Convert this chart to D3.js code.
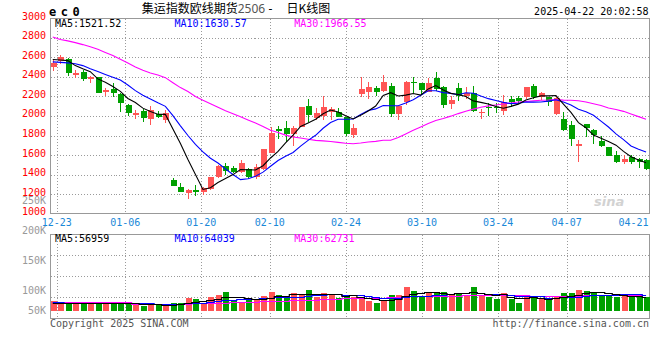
<!DOCTYPE html>
<html><head><meta charset="utf-8">
<script src="https://cdn.jsdelivr.net/npm/d3@7"></script>
<style>body{margin:0;background:#fff}svg{display:block}</style>
</head><body>
<svg id="c" width="660" height="360"></svg>
<script>
const dates = ["12-20","12-23","12-24","12-25","12-26","12-27","12-30","12-31","01-02","01-03",
"01-06","01-07","01-08","01-09","01-10","01-13","01-14","01-15","01-16","01-17",
"01-20","01-21","01-22","01-23","01-24","01-27","02-05","02-06","02-07","02-10",
"02-11","02-12","02-13","02-14","02-17","02-18","02-19","02-20","02-21","02-24",
"02-25","02-26","02-27","02-28","03-03","03-04","03-05","03-06","03-07","03-10",
"03-11","03-12","03-13","03-14","03-17","03-18","03-19","03-20","03-21","03-24",
"03-25","03-26","03-27","03-28","03-31","04-01","04-02","04-03","04-07","04-08",
"04-09","04-10","04-11","04-14","04-15","04-16","04-17","04-18","04-21","04-22"];
const open = [2504,2565,2583,2416,2450,2375,2395,2248,2279,2225,
2109,2010,2051,1972,2017,1959,1341,1277,1208,1242,
1225,1253,1372,1491,1464,1430,1454,1372,1457,1624,
1867,1877,1815,1890,2105,1982,2000,2044,2044,1986,
1805,2225,2248,2283,2259,2306,2017,2146,2351,2334,
2245,2388,2292,2119,2283,2204,2231,2027,2095,2095,
2054,2173,2187,2190,2306,2190,2190,2020,1965,1907,
1696,1918,1856,1747,1679,1601,1525,1584,1556,1549];
const high = [2572,2624,2589,2470,2470,2412,2402,2283,2341,2238,
2119,2061,2071,2102,2051,2064,1369,1311,1253,1294,
1277,1379,1498,1522,1488,1549,1464,1508,1662,1884,
1897,1952,1897,2095,2173,2078,2204,2095,2078,1993,
1918,2395,2351,2306,2419,2341,2105,2361,2402,2341,
2390,2448,2304,2200,2341,2300,2306,2068,2129,2136,
2214,2208,2204,2293,2327,2249,2190,2190,2037,1948,
1754,1918,1863,1795,1679,1645,1601,1601,1573,1556];
const low = [2463,2531,2412,2392,2361,2341,2231,2208,2190,2044,
2003,1969,1938,1911,1976,1924,1283,1225,1150,1181,
1191,1242,1362,1396,1413,1413,1362,1352,1447,1618,
1761,1737,1693,1884,1942,1959,1959,1959,1986,1795,
1778,2190,2173,2204,2248,1993,1959,2112,2231,2221,
2242,2255,2085,2070,2156,2170,2037,1969,2003,2027,
2010,2088,2122,2173,2173,2163,2105,2010,1846,1696,
1532,1781,1713,1679,1590,1522,1505,1509,1464,1447];
const close = [2545,2606,2443,2443,2375,2398,2238,2265,2231,2129,
2034,2030,1976,2057,1986,2030,1287,1225,1242,1225,
1260,1379,1491,1440,1430,1515,1372,1478,1662,1822,
1850,1815,1877,2095,2010,2034,2095,2071,1993,1815,
1873,2276,2300,2248,2351,2017,2105,2344,2334,2265,
2338,2275,2116,2163,2208,2231,2051,2044,2078,2078,
2146,2146,2156,2293,2190,2238,2146,2180,1856,1764,
1713,1880,1805,1696,1594,1532,1560,1532,1525,1454];
const ma5 = [2578,2572,2566,2515,2482,2453,2379,2344,2301,2252,
2179,2138,2080,2045,2017,2016,1867,1717,1554,1402,
1248,1266,1319,1359,1400,1451,1450,1447,1491,1570,
1637,1725,1805,1892,1929,1966,2022,2061,2041,2002,
1969,2006,2051,2102,2210,2238,2204,2213,2230,2213,
2277,2311,2266,2231,2220,2199,2154,2139,2122,2096,
2079,2098,2121,2164,2186,2205,2205,2209,2122,2037,
1932,1879,1804,1772,1738,1701,1637,1583,1549,1521.52];
const ma10 = [2553,2548,2543,2534,2515,2483,2454,2425,2396,2367,
2316,2259,2212,2173,2134,2098,2003,1899,1800,1709,
1632,1567,1518,1457,1401,1349,1358,1383,1425,1485,
1544,1588,1626,1692,1750,1802,1874,1933,1966,1966,
1968,2014,2056,2072,2106,2104,2105,2132,2166,2211,
2258,2258,2239,2231,2217,2238,2233,2203,2177,2158,
2139,2126,2130,2143,2141,2142,2152,2165,2143,2112,
2068,2042,2007,1947,1887,1817,1758,1693,1660,1630.57];
const ma30 = [2808,2782,2768,2750,2730,2707,2683,2650,2618,2580,
2541,2502,2468,2440,2418,2392,2340,2290,2250,2200,
2160,2125,2088,2053,2023,1991,1959,1927,1893,1854,
1831,1804,1785,1774,1762,1750,1745,1738,1730,1720,
1715,1723,1734,1740,1752,1752,1779,1816,1853,1887,
1923,1953,1974,1998,2024,2048,2070,2089,2103,2112,
2122,2133,2142,2148,2154,2161,2163,2167,2162,2160,
2155,2142,2125,2107,2082,2066,2047,2020,1993,1966.55];
const volume = [39200,32300,32300,29500,29500,29500,32300,29500,32300,32300,
29500,27100,20200,29500,23000,23000,29500,32300,49700,45700,
32300,53700,63400,75500,43200,35100,43200,45700,60600,75500,
63400,56600,71500,63400,83600,53700,71500,67500,52500,60600,
56600,47300,39200,32300,39200,63400,63400,95700,79600,59400,
69900,75500,75500,63400,71500,63400,95700,59400,56600,47300,
71500,47300,32300,63400,53700,49700,43200,53700,71500,71500,
83600,79600,75500,59400,59400,56600,63400,56600,53700,53700];
const volMa5 = [30500,31000,31500,32000,32600,30600,30600,30100,30600,31200,
31200,30100,28300,27700,25900,24600,25000,27500,31500,36000,
37900,42700,49000,54100,53600,54200,52100,48500,45600,52000,
57700,60400,65500,66100,67700,65800,68700,67900,65800,61200,
61700,56900,51200,47200,42900,44300,47500,58800,68300,72300,
73600,76000,72000,68700,71200,69900,73900,70700,69300,64500,
66100,56400,51000,52400,53600,49300,48500,52700,54400,57900,
64700,72000,76300,73900,71500,66100,62900,59100,57900,56959];
const volMa10 = [33500,33200,33000,32800,32500,32200,32000,31500,31200,31900,
30900,30400,29200,29200,28500,27900,27600,27900,29600,31000,
31200,33900,38200,42800,44800,46000,47400,48800,49800,52800,
55900,56200,57000,55800,59900,61700,64600,66700,65900,64400,
63800,62800,59600,56500,52000,53000,52200,55000,57700,57600,
58900,61800,65400,68500,71700,71700,75000,71300,69000,67800,
68000,65200,60800,60800,59100,57700,52400,51900,53400,55800,
57000,60200,64500,64100,64700,65400,67400,67700,65900,64039];
const volMa30 = [36500,36300,36100,35900,35700,35500,35300,35100,34900,34700,
34500,28000,27500,27200,27000,27000,27000,27500,29000,29500,
30000,30500,31000,32500,33500,34500,35500,36500,37500,38500,
39400,40200,41500,42600,44400,45200,46500,47800,48500,49400,
50300,51000,51600,51700,52200,53600,54700,56800,57800,58300,
59500,60300,60700,60300,61200,62200,63900,64400,64200,63300,
63600,63200,61900,61900,60900,60800,59900,59400,60000,60400,
61300,62400,63600,64500,65200,64900,64900,63600,62800,62731];
const priceTicks = [1000,1200,1400,1600,1800,2000,2200,2400,2600,2800,3000];
const volTicks = [250000,200000,150000,100000,50000];
const volTickLabels = ["250K","200K","150K","100K","50K"];
const dateTicks = ["12-23","01-06","01-20","02-10","02-24","03-10","03-24","04-07","04-21"];
const priceMaLabels = ["MA5:1521.52","MA10:1630.57","MA30:1966.55"];
const volMaLabels = ["MA5:56959","MA10:64039","MA30:62731"];

const RED = "#ff5555", GREEN = "#00a000", GRID = "#9a9a9a", FRAME = "#999";
const MONO = "'DejaVu Sans Mono', 'Liberation Mono', monospace";
const svg = d3.select("#c");
svg.append("rect").attr("width",660).attr("height",360).attr("fill","#fff");

const x = d3.scaleBand().domain(dates).range([49, 649.8]);
const cx = d => x(d) + x.bandwidth()/2;
const xLab = d3.scalePoint().domain(dates).range([49.1, 650.4]);
const y = d3.scaleLinear().domain([1000,3000]).range([213.7, 18.2]);
const yV = d3.scaleLinear().domain([0,100000]).range([310.7, 285.95]);
const yVL = d3.scaleLinear().domain([100000,250000]).range([290.7, 200]);
const yPanel = d3.scaleLinear().domain([0,4]).range([234.5, 318.5]);

const P = {l:50.5, r:649.5, t:18.5, b:213.5};
const V = {t:234.5, b:318.5};

// grid
const g = svg.append("g").attr("stroke", GRID).attr("stroke-dasharray","1,2").attr("shape-rendering","crispEdges");
priceTicks.filter(v => v>1000 && v<3000).forEach(v => {
  const yy = Math.round(y(v)) + 0.5;
  g.append("line").attr("x1",P.l).attr("x2",P.r).attr("y1",yy).attr("y2",yy);
});
[1,2,3].forEach(k => {
  const yy = yPanel(k);
  g.append("line").attr("x1",P.l).attr("x2",P.r).attr("y1",yy).attr("y2",yy);
});
dateTicks.slice(0, -1).forEach(d => {
  const xx = Math.round(xLab(d)) + 0.5;
  g.append("line").attr("x1",xx).attr("x2",xx).attr("y1",P.t).attr("y2",P.b);
  g.append("line").attr("x1",xx).attr("x2",xx).attr("y1",V.t).attr("y2",V.b);
});

// frames
svg.append("rect").attr("x",P.l).attr("y",P.t).attr("width",P.r-P.l).attr("height",P.b-P.t)
  .attr("fill","none").attr("stroke",FRAME).attr("shape-rendering","crispEdges");
svg.append("rect").attr("x",P.l).attr("y",V.t).attr("width",P.r-P.l).attr("height",V.b-V.t)
  .attr("fill","none").attr("stroke",FRAME).attr("shape-rendering","crispEdges");

// candles
const cg = svg.append("g").attr("shape-rendering","crispEdges");
dates.forEach((d,i) => {
  const col = close[i] >= open[i] ? RED : GREEN;
  const c = cx(d);
  const wx = Math.round(c) + 0.5;
  cg.append("line").attr("x1",wx).attr("x2",wx).attr("y1",y(high[i])).attr("y2",y(low[i])).attr("stroke",col);
  const top = y(Math.max(open[i],close[i])), bot = y(Math.min(open[i],close[i]));
  cg.append("rect").attr("x",Math.round(c)-2.5).attr("width",6).attr("y",Math.round(top))
    .attr("height",Math.max(1, Math.round(bot)-Math.round(top))).attr("fill",col);
  // volume bars
  const vt = Math.round(yV(volume[i]));
  cg.append("rect").attr("x",Math.round(c)-2.5).attr("width",6).attr("y",vt)
    .attr("height",311 - vt).attr("fill",col);
});

// MA lines
const line = d3.line().x((v,i) => cx(dates[i])).y(v => y(v));
[[ma30,"#ff00ff"],[ma10,"#0000ff"],[ma5,"#000"]].forEach(([arr,col]) => {
  svg.append("path").attr("d", line(arr)).attr("fill","none").attr("stroke",col).attr("stroke-width",1.1);
});
const vline = d3.line().x((v,i) => cx(dates[i])).y(v => Math.round(yV(v))+0.5).curve(d3.curveStep);
[[volMa30,"#ff00ff"],[volMa10,"#0000ff"],[volMa5,"#000"]].forEach(([arr,col]) => {
  svg.append("path").attr("d", vline(arr)).attr("fill","none").attr("stroke",col).attr("stroke-width",1.2);
});

// watermark
svg.append("text").attr("x",594).attr("y",206).text("sina")
  .attr("font-family","'DejaVu Sans', sans-serif").attr("font-style","italic").attr("font-weight","bold")
  .attr("font-size",13).attr("fill","#d2d2d2");

// price labels
svg.append("g").selectAll("text").data(priceTicks).join("text")
  .attr("x",46).attr("y",v => y(v)+1.5).attr("text-anchor","end")
  .attr("font-family",MONO).attr("font-size",10).attr("fill","#ff0000").text(v => v);
// volume labels
svg.append("g").selectAll("text").data(volTicks).join("text")
  .attr("x",46).attr("y",v => Math.min(yVL(v), 310.7) + 3.5).attr("text-anchor","end")
  .attr("font-family",MONO).attr("font-size",10).attr("fill","#999").text((v,i) => volTickLabels[i]);
// date labels
svg.append("g").selectAll("text").data(dateTicks).join("text")
  .attr("x",d => Math.min(xLab(d), 648.5 - 15)).attr("y",226).attr("text-anchor","middle")
  .attr("font-family",MONO).attr("font-size",10).attr("fill","#1a88d8").text(d => d);

// MA legends
const maCols = ["#000","#0000ff","#ff00ff"], maX = [55,174.5,294.3];
priceMaLabels.forEach((t,i) => svg.append("text").attr("x",maX[i]).attr("y",26.5)
  .attr("font-family",MONO).attr("font-size",10).attr("fill",maCols[i]).text(t));
volMaLabels.forEach((t,i) => svg.append("text").attr("x",maX[i]).attr("y",242)
  .attr("font-family",MONO).attr("font-size",10).attr("fill",maCols[i]).text(t));

// header
svg.append("text").attr("x",49).attr("y",15.7).text("ec0")
  .attr("font-family",MONO).attr("font-weight","bold").attr("font-size",12).attr("letter-spacing",4.5).attr("fill","#000");
const title = svg.append("text").attr("y",12.5).attr("font-size",12).attr("fill","#000");
title.append("tspan").attr("x",141.7).attr("font-family","'Noto Sans CJK SC', sans-serif").text("集运指数欧线期货");
title.append("tspan").attr("font-family","'Noto Sans', sans-serif").attr("fill","#555").text("2506");
title.append("tspan").attr("x",268.5).attr("font-family","'Noto Sans', sans-serif").text("-");
title.append("tspan").attr("x",286.5).attr("font-family","'Noto Sans CJK SC', sans-serif").text("日K线图");
svg.append("text").attr("x",648.5).attr("y",15).attr("text-anchor","end")
  .attr("font-family",MONO).attr("font-size",10).attr("fill","#000").text("2025-04-22 20:02:58");

// footer
svg.append("text").attr("x",50).attr("y",326.5).attr("font-family",MONO).attr("font-size",10)
  .attr("fill","#555").text("Copyright 2025 SINA.COM");
svg.append("text").attr("x",649).attr("y",326.5).attr("text-anchor","end").attr("font-family",MONO).attr("font-size",10)
  .attr("fill","#555").text("http://finance.sina.com.cn");
</script>
</body></html>
